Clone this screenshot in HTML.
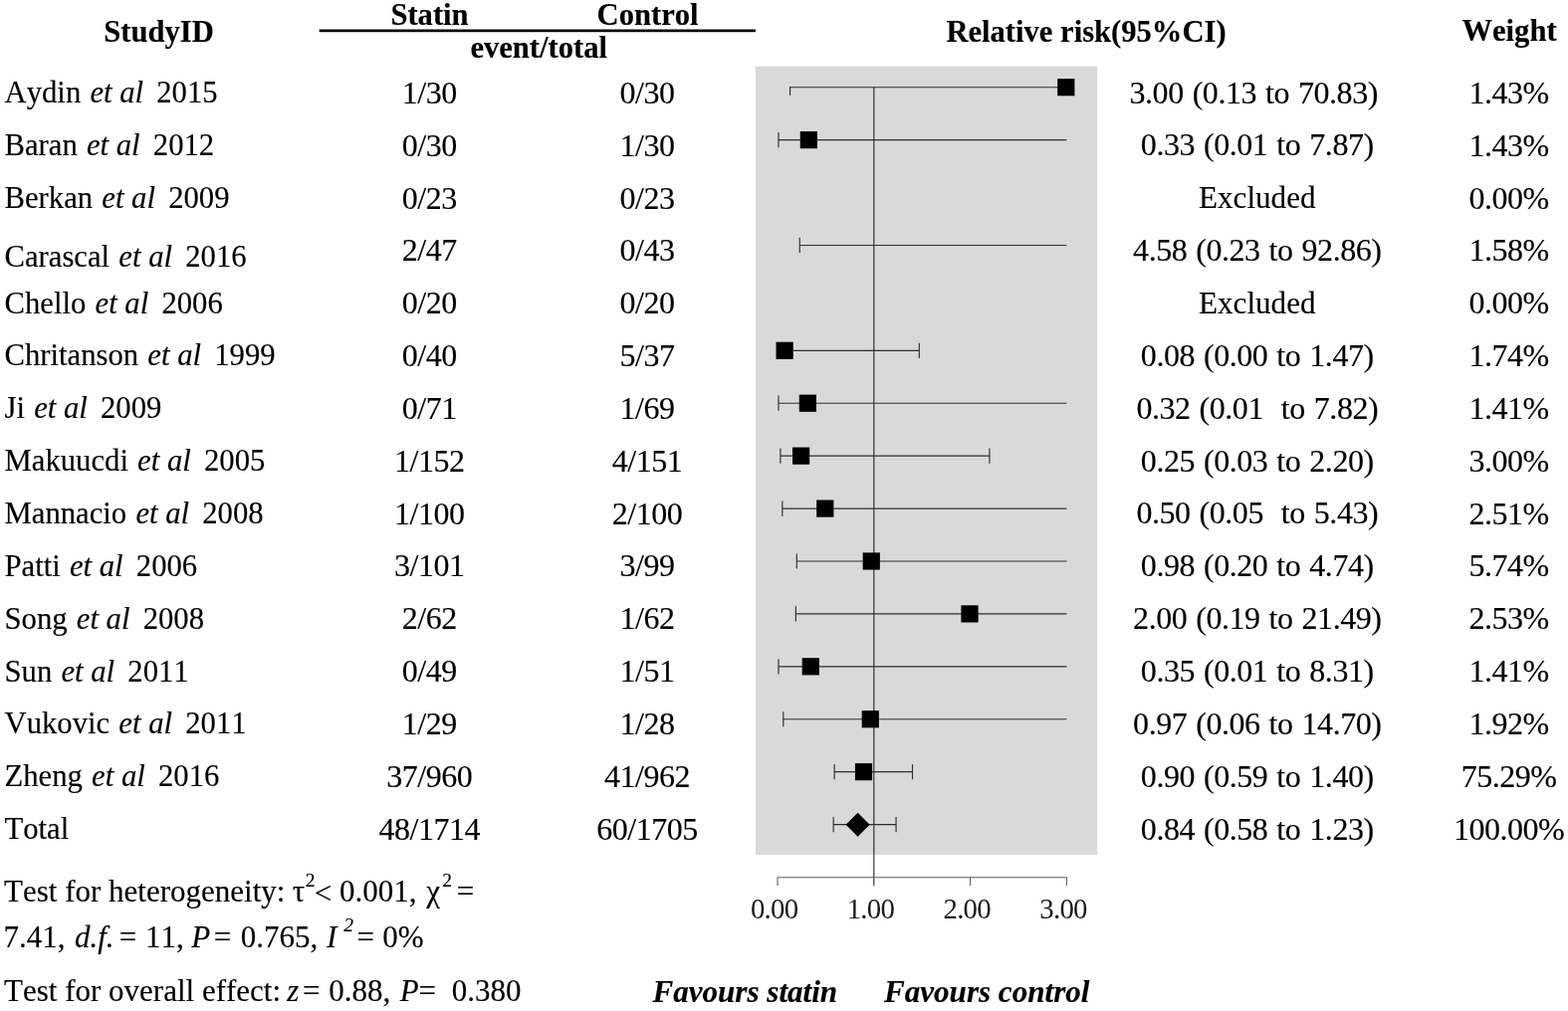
<!DOCTYPE html>
<html lang="en">
<head>
<meta charset="utf-8">
<title>Forest plot: statin vs control</title>
<style>
html,body{margin:0;padding:0;background:#fff;}
body{width:1575px;height:1016px;overflow:hidden;}
svg{display:block;}
text{font-kerning:none;stroke:#000;stroke-width:0.15px;paint-order:stroke;font-family:"Liberation Serif","Times New Roman",Times,serif;font-size:30.6px;fill:#000;white-space:pre;}
.nm{font-size:30.7px;}
.rr{font-size:32px;letter-spacing:-0.45px;word-spacing:1.4px;}
.ex{font-size:31.1px;}
.ev{font-size:32px;letter-spacing:-0.5px;}
.b{font-weight:bold;}
.i{font-style:italic;}
.bi{font-weight:bold;font-style:italic;font-size:31.1px;}
.ax{font-size:28.8px;letter-spacing:-0.75px;stroke:none;fill:#1a1a1a;}
.sup{font-size:19px;}
.ln{stroke:#2e2e2e;stroke-width:1.15;fill:none;}
.axl{stroke:#5c5c5c;stroke-width:1.05;fill:none;stroke-linejoin:round;}
</style>
</head>
<body>
<svg width="1575" height="1016" viewBox="0 0 1575 1016" role="img" aria-label="Forest plot of relative risk, statin versus control">

<rect x="758.9" y="66.7" width="343.3" height="792.3" fill="#d9d9d9"/>
<text class="b" x="159.6" y="41.6" text-anchor="middle">StudyID</text>
<text class="b" x="431.5" y="25.2" text-anchor="middle">Statin</text>
<text class="b" x="650.6" y="25.2" text-anchor="middle">Control</text>
<rect x="320.7" y="29.5" width="438.2" height="2.7" fill="#000"/>
<text class="b" x="541.2" y="58.2" text-anchor="middle">event/total</text>
<text class="b" x="1091" y="41.6" text-anchor="middle">Relative risk(95%CI)</text>
<text class="b" x="1516" y="41.4" text-anchor="middle">Weight</text>
<text class="nm" x="4.5" y="103.2">Aydin<tspan class="i" dx="1.5"> et al</tspan><tspan dx="5.5"> 2015</tspan></text>
<text class="ev" x="431.2" y="103.8" text-anchor="middle">1/30</text>
<text class="ev" x="650" y="103.8" text-anchor="middle">0/30</text>
<text class="rr" x="1259.2" y="103.6" text-anchor="middle">3.00 (0.13 to 70.83)</text>
<text class="ev" x="1515.5" y="103.8" text-anchor="middle">1.43%</text>
<text class="nm" x="4.5" y="156.05">Baran<tspan class="i" dx="1.5"> et al</tspan><tspan dx="5.5"> 2012</tspan></text>
<text class="ev" x="431.2" y="156.65" text-anchor="middle">0/30</text>
<text class="ev" x="650" y="156.65" text-anchor="middle">1/30</text>
<text class="rr" x="1262.8" y="156.45" text-anchor="middle">0.33 (0.01 to 7.87)</text>
<text class="ev" x="1515.5" y="156.65" text-anchor="middle">1.43%</text>
<text class="nm" x="4.5" y="208.9">Berkan<tspan class="i" dx="1.5"> et al</tspan><tspan dx="5.5"> 2009</tspan></text>
<text class="ev" x="431.2" y="209.5" text-anchor="middle">0/23</text>
<text class="ev" x="650" y="209.5" text-anchor="middle">0/23</text>
<text class="ex" x="1262.8" y="209.3" text-anchor="middle">Excluded</text>
<text class="ev" x="1515.5" y="209.5" text-anchor="middle">0.00%</text>
<text class="nm" x="4.5" y="267.55">Carascal<tspan class="i" dx="1.5"> et al</tspan><tspan dx="5.5"> 2016</tspan></text>
<text class="ev" x="431.2" y="262.35" text-anchor="middle">2/47</text>
<text class="ev" x="650" y="262.35" text-anchor="middle">0/43</text>
<text class="rr" x="1262.8" y="262.15" text-anchor="middle">4.58 (0.23 to 92.86)</text>
<text class="ev" x="1515.5" y="262.35" text-anchor="middle">1.58%</text>
<text class="nm" x="4.5" y="314.6">Chello<tspan class="i" dx="1.5"> et al</tspan><tspan dx="5.5"> 2006</tspan></text>
<text class="ev" x="431.2" y="315.2" text-anchor="middle">0/20</text>
<text class="ev" x="650" y="315.2" text-anchor="middle">0/20</text>
<text class="ex" x="1262.8" y="315" text-anchor="middle">Excluded</text>
<text class="ev" x="1515.5" y="315.2" text-anchor="middle">0.00%</text>
<text class="nm" x="4.5" y="367.45">Chritanson<tspan class="i" dx="1.5"> et al</tspan><tspan dx="5.5"> 1999</tspan></text>
<text class="ev" x="431.2" y="368.05" text-anchor="middle">0/40</text>
<text class="ev" x="650" y="368.05" text-anchor="middle">5/37</text>
<text class="rr" x="1262.8" y="367.85" text-anchor="middle">0.08 (0.00 to 1.47)</text>
<text class="ev" x="1515.5" y="368.05" text-anchor="middle">1.74%</text>
<text class="nm" x="4.5" y="420.3">Ji<tspan class="i" dx="1.5"> et al</tspan><tspan dx="5.5"> 2009</tspan></text>
<text class="ev" x="431.2" y="420.9" text-anchor="middle">0/71</text>
<text class="ev" x="650" y="420.9" text-anchor="middle">1/69</text>
<text class="rr" x="1262.8" y="420.7" text-anchor="middle">0.32 (0.01  to 7.82)</text>
<text class="ev" x="1515.5" y="420.9" text-anchor="middle">1.41%</text>
<text class="nm" x="4.5" y="473.15">Makuucdi<tspan class="i" dx="1.5"> et al</tspan><tspan dx="5.5"> 2005</tspan></text>
<text class="ev" x="431.2" y="473.75" text-anchor="middle">1/152</text>
<text class="ev" x="650" y="473.75" text-anchor="middle">4/151</text>
<text class="rr" x="1262.8" y="473.55" text-anchor="middle">0.25 (0.03 to 2.20)</text>
<text class="ev" x="1515.5" y="473.75" text-anchor="middle">3.00%</text>
<text class="nm" x="4.5" y="526">Mannacio<tspan class="i" dx="1.5"> et al</tspan><tspan dx="5.5"> 2008</tspan></text>
<text class="ev" x="431.2" y="526.6" text-anchor="middle">1/100</text>
<text class="ev" x="650" y="526.6" text-anchor="middle">2/100</text>
<text class="rr" x="1262.8" y="526.4" text-anchor="middle">0.50 (0.05  to 5.43)</text>
<text class="ev" x="1515.5" y="526.6" text-anchor="middle">2.51%</text>
<text class="nm" x="4.5" y="578.85">Patti<tspan class="i" dx="1.5"> et al</tspan><tspan dx="5.5"> 2006</tspan></text>
<text class="ev" x="431.2" y="579.45" text-anchor="middle">3/101</text>
<text class="ev" x="650" y="579.45" text-anchor="middle">3/99</text>
<text class="rr" x="1262.8" y="579.25" text-anchor="middle">0.98 (0.20 to 4.74)</text>
<text class="ev" x="1515.5" y="579.45" text-anchor="middle">5.74%</text>
<text class="nm" x="4.5" y="631.7">Song<tspan class="i" dx="1.5"> et al</tspan><tspan dx="5.5"> 2008</tspan></text>
<text class="ev" x="431.2" y="632.3" text-anchor="middle">2/62</text>
<text class="ev" x="650" y="632.3" text-anchor="middle">1/62</text>
<text class="rr" x="1262.8" y="632.1" text-anchor="middle">2.00 (0.19 to 21.49)</text>
<text class="ev" x="1515.5" y="632.3" text-anchor="middle">2.53%</text>
<text class="nm" x="4.5" y="684.55">Sun<tspan class="i" dx="1.5"> et al</tspan><tspan dx="5.5"> 2011</tspan></text>
<text class="ev" x="431.2" y="685.15" text-anchor="middle">0/49</text>
<text class="ev" x="650" y="685.15" text-anchor="middle">1/51</text>
<text class="rr" x="1262.8" y="684.95" text-anchor="middle">0.35 (0.01 to 8.31)</text>
<text class="ev" x="1515.5" y="685.15" text-anchor="middle">1.41%</text>
<text class="nm" x="4.5" y="737.4">Vukovic<tspan class="i" dx="1.5"> et al</tspan><tspan dx="5.5"> 2011</tspan></text>
<text class="ev" x="431.2" y="738" text-anchor="middle">1/29</text>
<text class="ev" x="650" y="738" text-anchor="middle">1/28</text>
<text class="rr" x="1262.8" y="737.8" text-anchor="middle">0.97 (0.06 to 14.70)</text>
<text class="ev" x="1515.5" y="738" text-anchor="middle">1.92%</text>
<text class="nm" x="4.5" y="790.25">Zheng<tspan class="i" dx="1.5"> et al</tspan><tspan dx="5.5"> 2016</tspan></text>
<text class="ev" x="431.2" y="790.85" text-anchor="middle">37/960</text>
<text class="ev" x="650" y="790.85" text-anchor="middle">41/962</text>
<text class="rr" x="1262.8" y="790.65" text-anchor="middle">0.90 (0.59 to 1.40)</text>
<text class="ev" x="1515.5" y="790.85" text-anchor="middle">75.29%</text>
<text class="nm" x="4.5" y="843.1">Total</text>
<text class="ev" x="431.2" y="843.7" text-anchor="middle">48/1714</text>
<text class="ev" x="650" y="843.7" text-anchor="middle">60/1705</text>
<text class="rr" x="1262.8" y="843.5" text-anchor="middle">0.84 (0.58 to 1.23)</text>
<text class="ev" x="1515.5" y="843.7" text-anchor="middle">100.00%</text>
<line class="ln" x1="877.8" y1="87.7" x2="877.8" y2="890" />
<line class="ln" x1="793.58" y1="87.7" x2="1071.4" y2="87.7"/>
<line class="ln" x1="793.58" y1="87.1" x2="793.58" y2="95.7"/>
<rect x="1062.2" y="79.1" width="17.2" height="17.2" fill="#000"/>
<line class="ln" x1="781.97" y1="140.62" x2="1071.4" y2="140.62"/>
<line class="ln" x1="781.97" y1="133.02" x2="781.97" y2="148.22"/>
<rect x="803.74" y="132.02" width="17.2" height="17.2" fill="#000"/>
<line class="ln" x1="803.26" y1="246.46" x2="1071.4" y2="246.46"/>
<line class="ln" x1="803.26" y1="238.86" x2="803.26" y2="254.06"/>
<line class="ln" x1="781" y1="352.3" x2="923.3" y2="352.3"/>
<line class="ln" x1="781" y1="344.7" x2="781" y2="359.9"/>
<line class="ln" x1="923.3" y1="344.7" x2="923.3" y2="359.9"/>
<rect x="779.54" y="343.7" width="17.2" height="17.2" fill="#000"/>
<line class="ln" x1="781.97" y1="405.22" x2="1071.4" y2="405.22"/>
<line class="ln" x1="781.97" y1="397.62" x2="781.97" y2="412.82"/>
<rect x="802.78" y="396.62" width="17.2" height="17.2" fill="#000"/>
<line class="ln" x1="783.9" y1="458.14" x2="993.96" y2="458.14"/>
<line class="ln" x1="783.9" y1="450.54" x2="783.9" y2="465.74"/>
<line class="ln" x1="993.96" y1="450.54" x2="993.96" y2="465.74"/>
<rect x="796" y="449.54" width="17.2" height="17.2" fill="#000"/>
<line class="ln" x1="785.84" y1="511.06" x2="1071.4" y2="511.06"/>
<line class="ln" x1="785.84" y1="503.46" x2="785.84" y2="518.66"/>
<rect x="820.2" y="502.46" width="17.2" height="17.2" fill="#000"/>
<line class="ln" x1="800.36" y1="563.98" x2="1071.4" y2="563.98"/>
<line class="ln" x1="800.36" y1="556.38" x2="800.36" y2="571.58"/>
<rect x="866.66" y="555.38" width="17.2" height="17.2" fill="#000"/>
<line class="ln" x1="799.39" y1="616.9" x2="1071.4" y2="616.9"/>
<line class="ln" x1="799.39" y1="609.3" x2="799.39" y2="624.5"/>
<rect x="965.4" y="608.3" width="17.2" height="17.2" fill="#000"/>
<line class="ln" x1="781.97" y1="669.82" x2="1071.4" y2="669.82"/>
<line class="ln" x1="781.97" y1="662.22" x2="781.97" y2="677.42"/>
<rect x="805.68" y="661.22" width="17.2" height="17.2" fill="#000"/>
<line class="ln" x1="786.81" y1="722.74" x2="1071.4" y2="722.74"/>
<line class="ln" x1="786.81" y1="715.14" x2="786.81" y2="730.34"/>
<rect x="865.7" y="714.14" width="17.2" height="17.2" fill="#000"/>
<line class="ln" x1="838.11" y1="775.66" x2="916.52" y2="775.66"/>
<line class="ln" x1="838.11" y1="768.06" x2="838.11" y2="783.26"/>
<line class="ln" x1="916.52" y1="768.06" x2="916.52" y2="783.26"/>
<rect x="858.92" y="767.06" width="17.2" height="17.2" fill="#000"/>
<line class="ln" x1="837.14" y1="828.58" x2="900.06" y2="828.58"/>
<line class="ln" x1="837.14" y1="820.98" x2="837.14" y2="836.18"/>
<line class="ln" x1="900.06" y1="820.98" x2="900.06" y2="836.18"/>
<polygon points="849.61,828.78 861.61,816.78 873.61,828.78 861.61,840.78" fill="#000"/>
<path class="axl" d="M781 890 V881.8 H1071.4 V890 M974.6 881.8 V890"/>
<text class="ax" x="777.6" y="922.6" text-anchor="middle">0.00</text>
<text class="ax" x="874.4" y="922.6" text-anchor="middle">1.00</text>
<text class="ax" x="971.2" y="922.6" text-anchor="middle">2.00</text>
<text class="ax" x="1068" y="922.6" text-anchor="middle">3.00</text>
<text><tspan x="4.1" y="906.4" style="font-size:31.0px">Test for heterogeneity: </tspan><tspan x="293.85" y="906.4" style="font-size:31.0px">τ</tspan><tspan x="306.65" y="890.5" style="font-size:19.5px">2</tspan><tspan x="315.7" y="908.4" style="font-size:31.0px">&lt; </tspan><tspan x="341.05" y="906.4" style="font-size:31.0px">0.001, </tspan><tspan x="428.2" y="906.4" style="font-size:31.0px">χ</tspan><tspan x="444.25" y="890.5" style="font-size:19.5px">2 </tspan><tspan x="458.8" y="906.4" style="font-size:31.0px">=</tspan></text>
<text><tspan x="3.6" y="952" style="font-size:31.0px">7.41, </tspan><tspan class="i" x="74.9" y="952" style="font-size:31.0px">d.f. </tspan><tspan x="119.7" y="952" style="font-size:31.0px">= </tspan><tspan x="145.95" y="952" style="font-size:31.0px">11, </tspan><tspan class="i" x="192.15" y="952" style="font-size:31.0px">P </tspan><tspan x="214.8" y="952" style="font-size:31.0px">= </tspan><tspan x="241.75" y="952" style="font-size:31.0px">0.765, </tspan><tspan class="i" x="327.9" y="952" style="font-size:31.0px">I </tspan><tspan class="i" x="345.3" y="936.1" style="font-size:19.5px">2 </tspan><tspan x="358.4" y="952" style="font-size:31.0px">= </tspan><tspan x="384.35" y="952" style="font-size:31.0px">0%</tspan></text>
<text><tspan x="4.1" y="1006.2" style="font-size:31.0px">Test for overall effect: </tspan><tspan class="i" x="288.15" y="1006.2" style="font-size:31.0px">z </tspan><tspan x="304.1" y="1006.2" style="font-size:31.0px">= </tspan><tspan x="330.15" y="1006.2" style="font-size:31.0px">0.88, </tspan><tspan class="i" x="401.85" y="1006.2" style="font-size:31.0px">P</tspan><tspan x="420.6" y="1006.2" style="font-size:31.0px">=  </tspan><tspan x="453.75" y="1006.2" style="font-size:31.0px">0.380</tspan></text>
<text class="bi" x="748.3" y="1006.6" text-anchor="middle">Favours statin</text>
<text class="bi" x="991.2" y="1006.6" text-anchor="middle">Favours control</text>
</svg>
</body>
</html>
